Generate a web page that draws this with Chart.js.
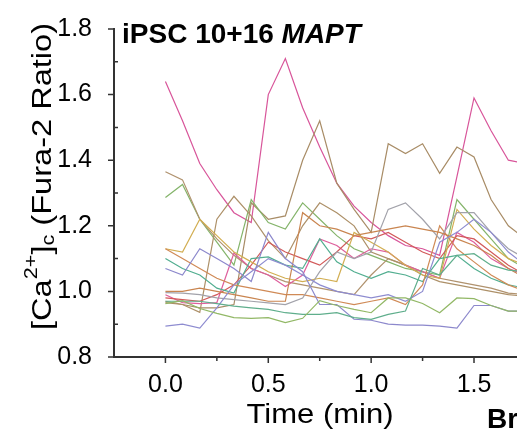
<!DOCTYPE html>
<html><head><meta charset="utf-8">
<script src="https://cdn.jsdelivr.net/npm/chart.js@4/dist/chart.umd.min.js"></script>
<style>
html,body{margin:0;padding:0;background:#fff;overflow:hidden}
#wrap{position:relative;width:517px;height:430px;overflow:hidden}
</style></head><body>
<div id="wrap"><canvas id="c" width="517" height="430"></canvas></div>
<script>
// time points (min)
const times = [0.000,0.083,0.167,0.250,0.333,0.417,0.500,0.583,0.667,0.750,0.833,0.917,1.000,1.083,1.167,1.250,1.333,1.417,1.500,1.583,1.667,1.750];

const xTickValues = [0.0,0.5,1.0,1.5];
const xTickLabels = ['0.0','0.5','1.0','1.5'];
const xMinorTicks = [0.25,0.75,1.25];
const yTickValues = [0.8,1.0,1.2,1.4,1.6,1.8];
const yTickLabels = ['0.8','1.0','1.2','1.4','1.6','1.8'];
const yMinorTicks = [0.9,1.1,1.3,1.5,1.7];

// individual cell traces (Fura-2 ratio)
const cellPinkHigh = [1.64,1.52,1.39,1.31,1.24,1.21,1.60,1.71,1.56,1.44,1.33,1.26,1.21,1.17,1.14,1.13,1.11,1.35,1.59,1.49,1.40,1.39];
const cellTanPeak  = [0.97,0.96,0.95,0.95,0.96,1.27,1.22,1.23,1.40,1.52,1.33,1.25,1.18,1.45,1.42,1.45,1.36,1.44,1.41,1.28,1.20,1.16];
const cellTanHigh  = [1.365,1.34,1.22,1.16,1.11,1.07,1.05,1.03,1.02,1.01,1.00,0.99,1.05,1.10,1.08,1.06,1.04,1.03,1.02,1.01,0.995,0.99];
const cellTanMid   = [0.966,0.96,0.936,1.22,1.29,1.23,1.155,1.10,1.20,1.27,1.24,1.20,1.12,1.10,1.08,1.05,1.03,1.02,1.01,1.00,0.99,0.985];
const cellGreen    = [1.286,1.326,1.22,1.15,1.08,1.28,1.21,1.19,1.27,1.22,1.17,1.13,1.11,1.09,1.07,1.06,1.05,1.28,1.22,1.16,1.10,1.07];
const cellYellow   = [1.13,1.12,1.22,1.17,1.12,1.09,1.06,1.04,1.03,1.04,1.03,1.18,1.15,1.12,1.08,1.05,1.04,1.25,1.19,1.14,1.10,1.08];
const cellOrange   = [1.13,1.10,1.07,1.04,1.02,1.01,1.00,0.99,0.99,0.98,0.97,0.96,0.97,0.98,0.96,1.02,1.20,1.13,1.09,1.05,1.02,1.00];
const cellTeal     = [1.10,1.07,1.05,1.01,0.995,1.10,1.105,1.08,1.07,1.16,1.09,1.06,1.04,1.06,1.05,1.03,1.10,1.11,1.07,1.04,1.02,1.01];
const cellPurpleA  = [1.07,1.05,1.13,1.10,1.07,1.03,1.18,1.10,1.06,0.96,0.96,0.915,0.912,0.90,0.897,0.897,0.894,0.888,0.957,0.957,0.94,0.94];
const cellPurpleB  = [0.894,0.90,0.888,0.95,1.02,1.06,1.10,1.08,1.05,1.02,1.00,0.99,0.98,0.99,0.97,1.00,1.15,1.18,1.22,1.18,1.12,1.08];
const cellBrown    = [1.00,1.00,1.01,1.00,0.99,0.98,0.97,0.97,1.24,1.20,1.19,1.17,1.18,1.19,1.20,1.19,1.18,1.16,1.14,1.11,1.07,1.04];
const cellGray     = [0.996,0.995,0.99,0.98,0.975,0.97,0.965,0.96,0.98,1.06,1.12,1.10,1.12,1.25,1.27,1.22,1.16,1.24,1.24,1.18,1.13,1.10];
const cellPinkLow  = [0.99,0.966,0.963,0.966,1.117,1.07,1.05,1.015,1.05,1.16,1.14,1.10,1.13,1.12,1.08,1.06,1.04,1.18,1.15,1.10,1.07,1.05];
const cellRed      = [0.98,0.975,0.97,0.99,1.02,1.08,1.15,1.12,1.10,1.08,1.12,1.17,1.16,1.18,1.15,1.12,1.10,1.17,1.16,1.12,1.08,1.05];
const cellTeal2    = [0.97,0.97,0.97,0.963,0.955,0.95,0.945,0.935,0.93,0.93,0.935,0.92,0.915,0.93,0.94,1.07,1.05,1.11,1.115,1.08,1.065,1.06];
const cellGreen2   = [0.963,0.972,0.948,0.933,0.92,0.918,0.92,0.905,0.918,0.972,0.957,0.945,0.935,0.98,0.98,0.963,0.935,0.98,0.978,0.957,0.94,0.94];

const traces = [
  [cellGreen2,'#92b866'],[cellTeal2,'#5fae8c'],[cellPurpleA,'#8c88cc'],[cellPurpleB,'#8e8cd0'],
  [cellBrown,'#c98550'],[cellGray,'#a2a2aa'],[cellOrange,'#d08a56'],[cellYellow,'#d2ae52'],
  [cellTeal,'#52ae90'],[cellRed,'#d25a5a'],[cellPinkLow,'#de5f9c'],[cellTanMid,'#ad9068'],
  [cellTanHigh,'#b0926e'],[cellGreen,'#84b46a'],[cellTanPeak,'#a88c66'],[cellPinkHigh,'#d8559a']
];

const datasets = traces.map(([vals,col]) => ({
  data: times.map((t,i)=>({x:t,y:vals[i]})),
  borderColor: col, borderWidth: 1.2, pointRadius: 0, fill: false, tension: 0
}));

function drawParts(ctx, parts, targetW){
  let W = 0;
  parts.forEach(p=>{ ctx.font = p.font; p.w = ctx.measureText(p.t).width; W += p.w; });
  const s = targetW / W;
  ctx.scale(s,1);
  let x = -W/2;
  parts.forEach(p=>{ ctx.font = p.font; ctx.fillText(p.t, x, p.dy||0); x += p.w; });
}

const axesPlugin = {
  id: 'axesDeco',
  afterDraw(chart){
    const {ctx, chartArea:a, scales:{x, y}} = chart;
    ctx.save();
    ctx.strokeStyle = '#333';
    ctx.lineWidth = 2;
    ctx.beginPath();
    ctx.moveTo(a.left, a.top - 1); ctx.lineTo(a.left, a.bottom); ctx.lineTo(a.right + 2, a.bottom);
    ctx.stroke();
    ctx.lineWidth = 1.5;
    ctx.beginPath();
    yTickValues.forEach(v=>{ const p = y.getPixelForValue(v); ctx.moveTo(a.left-6,p); ctx.lineTo(a.left,p); });
    yMinorTicks.forEach(v=>{ const p = y.getPixelForValue(v); ctx.moveTo(a.left,p); ctx.lineTo(a.left+4,p); });
    xTickValues.forEach(v=>{ const p = x.getPixelForValue(v); ctx.moveTo(p,a.bottom); ctx.lineTo(p,a.bottom+6); });
    xMinorTicks.forEach(v=>{ const p = x.getPixelForValue(v); ctx.moveTo(p,a.bottom); ctx.lineTo(p,a.bottom+4); });
    ctx.stroke();

    ctx.fillStyle = '#000';
    ctx.textBaseline = 'alphabetic';
    ctx.textAlign = 'left';
    // panel title
    ctx.font = 'bold 28px "Liberation Sans", Arial, sans-serif';
    const t1 = 'iPSC 10+16 ';
    ctx.fillText(t1, 122, 43);
    const w1 = ctx.measureText(t1).width;
    ctx.font = 'italic bold 28px "Liberation Sans", Arial, sans-serif';
    ctx.fillText('MAPT', 122 + w1, 43);
    // next panel label (cut off)
    ctx.font = 'bold 28px "Liberation Sans", Arial, sans-serif';
    ctx.fillText('Br', 487, 428);

    // x title
    ctx.save();
    ctx.translate(320, 423);
    drawParts(ctx, [{t:'Time (min)', font:'27px "Liberation Sans", Arial, sans-serif'}], 147);
    ctx.restore();

    // y title
    ctx.save();
    ctx.translate(51, 176.5);
    ctx.rotate(-Math.PI/2);
    const F = '27px "Liberation Sans", Arial, sans-serif';
    const f = '18px "Liberation Sans", Arial, sans-serif';
    drawParts(ctx, [
      {t:'[Ca', font:F},
      {t:'2+', font:f, dy:-14},
      {t:']', font:F},
      {t:'c', font:f, dy:3},
      {t:' (Fura-2 Ratio)', font:F}
    ], 307);
    ctx.restore();
    ctx.restore();
  }
};

new Chart(document.getElementById('c'), {
  type: 'line',
  data: { datasets },
  options: {
    responsive: false,
    animation: false,
    events: [],
    layout: { padding: { top: 26, left: 0, right: 0, bottom: 0 } },
    plugins: { legend: { display: false }, tooltip: { enabled: false } },
    scales: {
      x: {
        type: 'linear', min: -0.25, max: 1.709,
        grid: { display: false }, border: { display: false },
        afterBuildTicks: s => { s.ticks = xTickValues.map(v=>({value:v})); },
        afterFit: s => { s.height = 73; },
        ticks: {
          autoSkip: false, maxRotation: 0, padding: 5, color: '#000',
          font: { family: '"Liberation Sans", Arial, sans-serif', size: 25 },
          callback: (v) => { const i = xTickValues.findIndex(t=>Math.abs(t-v)<1e-9); return i>=0 ? xTickLabels[i] : ''; }
        }
      },
      y: {
        type: 'linear', min: 0.8, max: 1.8,
        grid: { display: false }, border: { display: false },
        afterBuildTicks: s => { s.ticks = yTickValues.map(v=>({value:v})); },
        afterFit: s => { s.width = 114; },
        ticks: {
          autoSkip: false, padding: 14, color: '#000',
          font: { family: '"Liberation Sans", Arial, sans-serif', size: 25 },
          callback: (v) => { const i = yTickValues.findIndex(t=>Math.abs(t-v)<1e-9); return i>=0 ? yTickLabels[i] : ''; }
        }
      }
    }
  },
  plugins: [axesPlugin]
});
</script>
</body></html>
